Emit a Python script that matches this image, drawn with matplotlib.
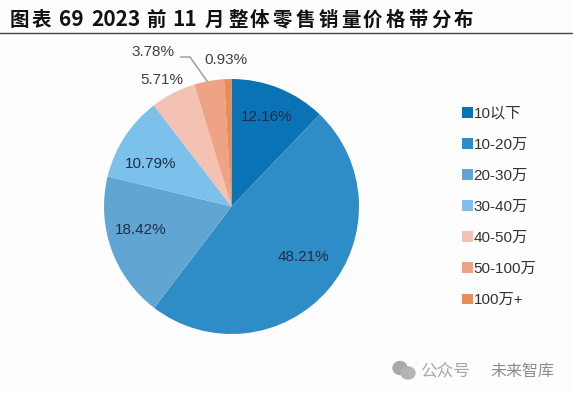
import matplotlib
matplotlib.use("Agg")
import matplotlib.pyplot as plt
from matplotlib.patches import Ellipse
from matplotlib.lines import Line2D

plt.rcParams['font.family'] = ['Liberation Sans', 'Noto Sans CJK SC', 'DejaVu Sans']

W, H = 573, 394

categories = ['10以下', '10-20万', '20-30万', '30-40万', '40-50万', '50-100万', '100万+']
shares = [12.16, 48.21, 18.42, 10.79, 5.71, 3.78, 0.93]
colors = ['#0a73b5', '#2e8cc6', '#61a6d2', '#7cc1ec', '#f3c2b2', '#eda384', '#e98c55']
share_labels = ['12.16%', '48.21%', '18.42%', '10.79%', '5.71%', '3.78%', '0.93%']
# label centres in pixels, measured on the picture
label_pos = [(267, 117), (303, 257), (141, 230), (151, 164), (162, 80), (153, 52), (226, 60)]
label_colors = ['#1c2e4a', '#1c2e4a', '#1c2e4a', '#1c2e4a', '#404040', '#404040', '#404040']

# title pieces and where each one starts, the original is widely spaced
title_parts = ['图', '表', '69', '2023', '前', '11', '月', '整', '体', '零', '售',
               '销', '量', '价', '格', '带', '分', '布']
title_x = [10, 32, 59, 91, 146, 172, 205, 228, 250, 273, 296, 319, 341, 363, 386, 408, 431, 454]
title_size = [14, 14, 15, 15, 14, 15, 14, 14, 14, 14, 14, 14, 14, 14, 14, 14, 14, 14]


def px(x, y):
    return x / W, 1 - y / H


fig = plt.figure(figsize=(W / 100, H / 100), dpi=100, facecolor='#fdfdfd')
ax = fig.add_axes([104 / W, 1 - 334 / H, 255 / W, 255 / H])
wedges, _ = ax.pie(shares, colors=colors, startangle=90, counterclock=False, radius=1,
                   wedgeprops={'edgecolor': 'none'})
ax.set_xlim(-1, 1)
ax.set_ylim(-1, 1)

for lab, (x, y), c in zip(share_labels, label_pos, label_colors):
    fig.text(*px(x, y), lab, fontsize=11, color=c, ha='center', va='center')

# leader line of the 3.78% label
fig.add_artist(Line2D([181 / W, 190 / W, 207 / W],
                      [1 - 57 / H, 1 - 57 / H, 1 - 81 / H],
                      color='#a6a6a6', lw=1.2))

# title and rule
for part, x, s in zip(title_parts, title_x, title_size):
    fig.text(*px(x, 20), part, fontsize=s, fontweight='bold', color='#111111',
             ha='left', va='center', family=['Noto Sans CJK SC', 'DejaVu Sans'])
fig.add_artist(Line2D([0, 1], [1 - 33 / H, 1 - 33 / H], color='#444444', lw=1))

leg = fig.legend(wedges, categories, loc='center left', bbox_to_anchor=(448 / W, 1 - 207 / H),
                 frameon=False, fontsize=11, labelspacing=1.12, handlelength=0.72,
                 handleheight=0.72, handletextpad=0.05, labelcolor='#333333')

# watermark, bottom right
fig.add_artist(Ellipse(px(400, 368), 14 / W, 13 / H, color='#a8a8a8'))
fig.add_artist(Ellipse(px(408, 373), 14 / W, 12 / H, color='#b4b4b4'))
fig.text(*px(420, 371), '公众号', fontsize=12, color='#a8a8a8', ha='left', va='center')
fig.text(*px(490, 371), '未来智库', fontsize=11.5, color='#8c8c8c', ha='left', va='center')

fig.savefig('out.png', dpi=100, facecolor=fig.get_facecolor())
